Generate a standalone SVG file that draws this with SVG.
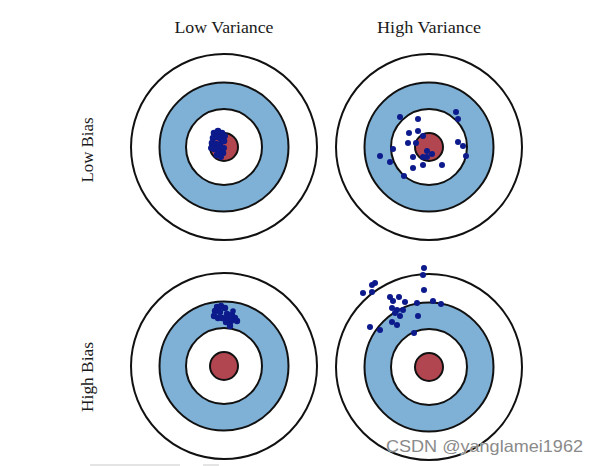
<svg xmlns="http://www.w3.org/2000/svg" width="599" height="466" viewBox="0 0 599 466">
<defs>
<style>
.outer{fill:#ffffff;stroke:#111;stroke-width:2}
.blue{fill:#7fb0d5;stroke:#111;stroke-width:2}
.white{fill:#ffffff;stroke:#111;stroke-width:2}
.red{fill:#b24650;stroke:#111;stroke-width:2}
.dot{fill:#0c1a8c}
.lbl{font-family:"Liberation Serif","Times New Roman",serif;font-size:16.5px;fill:#1a1a1a}
.wm{font-family:"Liberation Sans",Arial,sans-serif;font-size:16.5px;fill:#8a8a8a;stroke:#ffffff;stroke-width:0.6;paint-order:stroke}
</style>
<g id="target">
<circle class="outer" r="93"/>
<circle class="blue" r="64.5"/>
<circle class="white" r="38"/>
<circle class="red" r="14"/>
</g>
</defs>
<rect width="599" height="466" fill="#ffffff"/>
<g id="labels">
<text class="lbl" x="224" y="33" text-anchor="middle" textLength="99" lengthAdjust="spacingAndGlyphs">Low Variance</text>
<text class="lbl" x="429" y="33" text-anchor="middle" textLength="104" lengthAdjust="spacingAndGlyphs">High Variance</text>
<text class="lbl" transform="translate(93,150) rotate(-90)" text-anchor="middle" textLength="65" lengthAdjust="spacingAndGlyphs">Low Bias</text>
<text class="lbl" transform="translate(93,377) rotate(-90)" text-anchor="middle" textLength="70" lengthAdjust="spacingAndGlyphs">High Bias</text>
</g>
<g id="target-low-bias-low-variance">
<use href="#target" x="224" y="147"/>
<g class="dot">
<circle cx="214" cy="133" r="3.3"/><circle cx="218" cy="131" r="3.3"/><circle cx="222" cy="133" r="3.3"/>
<circle cx="213" cy="138" r="3.3"/><circle cx="217" cy="137" r="3.3"/><circle cx="221" cy="139" r="3.3"/>
<circle cx="212" cy="143" r="3.3"/><circle cx="216" cy="144" r="3.3"/><circle cx="220" cy="145" r="3.3"/>
<circle cx="224" cy="141" r="3.3"/><circle cx="214" cy="149" r="3.3"/><circle cx="219" cy="150" r="3.3"/>
<circle cx="223" cy="153" r="3.3"/><circle cx="217" cy="155" r="3.3"/><circle cx="224" cy="148" r="3"/>
<circle cx="211" cy="148" r="3"/><circle cx="221" cy="157" r="3"/><circle cx="225" cy="136" r="3"/>
</g>
</g>
<g id="target-low-bias-high-variance">
<use href="#target" x="429" y="147"/>
<g class="dot">
<circle cx="400" cy="117" r="3"/><circle cx="418" cy="119" r="3"/><circle cx="456" cy="112" r="3"/>
<circle cx="458" cy="119" r="3"/><circle cx="409" cy="133" r="3"/><circle cx="418" cy="131" r="3"/>
<circle cx="423" cy="136" r="3"/><circle cx="408" cy="143" r="3"/><circle cx="416" cy="143" r="3"/>
<circle cx="458" cy="142" r="3"/><circle cx="463" cy="146" r="3"/><circle cx="393" cy="149" r="3"/>
<circle cx="427" cy="151" r="3"/><circle cx="432" cy="154" r="3"/><circle cx="380" cy="156" r="3"/>
<circle cx="413" cy="157" r="3"/><circle cx="423" cy="157" r="3"/><circle cx="427" cy="157" r="3"/>
<circle cx="466" cy="156" r="3"/><circle cx="390" cy="162" r="3"/><circle cx="423" cy="165" r="3"/>
<circle cx="442" cy="165" r="3"/><circle cx="413" cy="168" r="3"/><circle cx="404" cy="176" r="3"/>
</g>
</g>
<g id="target-high-bias-low-variance">
<use href="#target" x="224" y="366"/>
<g class="dot">
<circle cx="217" cy="307" r="3.2"/><circle cx="221" cy="306" r="3.2"/><circle cx="225" cy="308" r="3.2"/>
<circle cx="215" cy="311" r="3.2"/><circle cx="220" cy="312" r="3.2"/><circle cx="214" cy="316" r="3.2"/>
<circle cx="218" cy="318" r="3.2"/><circle cx="222" cy="318" r="3.2"/><circle cx="227" cy="314" r="3.2"/>
<circle cx="227" cy="318" r="3.2"/><circle cx="232" cy="315" r="3.2"/><circle cx="235" cy="318" r="3.2"/>
<circle cx="237" cy="321" r="3.2"/><circle cx="231" cy="321" r="3.2"/><circle cx="226" cy="322" r="3.2"/>
<circle cx="230" cy="326" r="3.2"/><circle cx="233" cy="311" r="2.8"/>
</g>
</g>
<g id="target-high-bias-high-variance">
<use href="#target" x="429" y="367"/>
<g class="dot">
<circle cx="424" cy="268" r="3"/><circle cx="423" cy="275" r="3"/><circle cx="375" cy="283" r="3"/>
<circle cx="372" cy="285" r="3"/><circle cx="363" cy="293" r="3"/><circle cx="372" cy="292" r="3"/>
<circle cx="424" cy="290" r="3"/><circle cx="390" cy="297" r="3"/><circle cx="399" cy="297" r="3"/>
<circle cx="393" cy="301" r="3"/><circle cx="405" cy="302" r="3"/><circle cx="417" cy="303" r="3"/>
<circle cx="433" cy="301" r="3"/><circle cx="441" cy="304" r="3"/><circle cx="392" cy="308" r="3"/>
<circle cx="397" cy="310" r="3"/><circle cx="403" cy="310" r="3"/><circle cx="395" cy="313" r="3"/>
<circle cx="400" cy="316" r="3"/><circle cx="418" cy="316" r="3"/><circle cx="392" cy="322" r="3"/>
<circle cx="397" cy="325" r="3"/><circle cx="370" cy="327" r="3"/><circle cx="380" cy="330" r="3"/>
<circle cx="414" cy="333" r="3"/>
</g>
</g>
<g id="artifacts">
<rect x="90" y="464" width="90" height="2" fill="#e4e4e4"/>
<rect x="203" y="464" width="16" height="2" fill="#e4e4e4"/>
</g>
<text class="wm" x="386" y="452" textLength="197" lengthAdjust="spacingAndGlyphs">CSDN @yanglamei1962</text>
</svg>
